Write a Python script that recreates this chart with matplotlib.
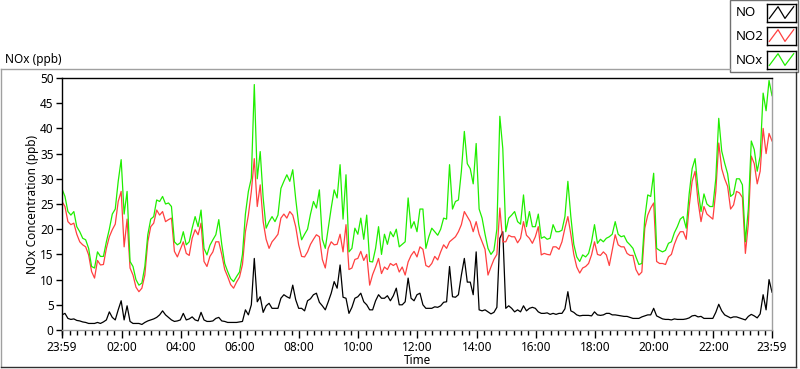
import numpy as np
import matplotlib
matplotlib.use("Agg")
import matplotlib.pyplot as plt
from matplotlib.lines import Line2D
from matplotlib.patches import Rectangle

# 6-minute samples, minute 0 = 23:59 of previous day
minutes = np.arange(0, 1441, 6)

no = [3.0, 3.3, 2.3, 2.1, 2.2, 1.9, 1.8, 1.6, 1.5, 1.3,
      1.3, 1.3, 1.5, 1.3, 1.6, 2.0, 3.6, 2.5, 2.0, 4.0,
      5.8, 2.0, 4.8, 1.7, 1.3, 1.3, 1.3, 1.1, 1.5, 1.8,
      2.0, 2.2, 2.5, 3.0, 3.8, 3.0, 2.5, 2.0, 1.7, 1.8,
      2.0,
      3.3, 2.0, 2.2, 2.6, 2.0, 1.8, 3.5, 2.0, 1.7, 1.7,
      1.8, 2.3, 2.5, 1.8, 1.7, 1.5, 1.5, 1.5, 1.5, 1.6,
      1.7, 4.0, 3.0, 5.0, 14.2, 5.6, 6.6, 3.5, 4.8, 5.3,
      4.3, 4.3, 4.3, 6.3, 7.0, 6.6, 6.3, 8.9, 6.0, 4.3,
      4.3,
      3.8, 5.8, 6.2, 7.0, 7.3, 5.5, 4.8, 4.0, 5.6,
      7.3, 9.6, 8.3, 12.9, 6.5, 6.3, 3.3, 4.5, 6.3, 6.6,
      7.3, 5.6, 5.0, 4.0, 4.0, 5.8, 7.0, 6.3, 6.3, 6.8,
      5.8, 6.8, 8.3, 5.0, 5.0, 5.6, 10.3, 6.3, 5.8, 7.0,
      7.3,
      5.0, 4.3, 4.3, 4.3, 4.6, 4.5, 4.8, 5.5, 5.6,
      12.6, 6.6, 6.5, 7.0, 10.9, 14.2, 9.5, 9.5, 7.0, 15.5,
      4.0, 3.8, 4.0, 3.6, 3.2, 3.5, 4.5, 18.2, 19.5, 4.3,
      4.8, 4.3, 3.6, 4.0, 3.6, 4.8, 3.8, 4.3, 4.5, 4.3,
      3.6, 3.3,
      3.3, 3.4, 3.1, 3.3, 3.1, 3.3, 3.3, 4.2,
      7.6, 3.8, 3.5, 3.0, 2.8, 2.9, 2.9, 2.9, 2.8, 3.6,
      3.0, 2.9, 3.0, 3.3, 3.3, 3.0, 3.0, 2.9, 2.8, 2.7,
      2.7, 2.5, 2.3, 2.3, 2.3, 2.6, 2.8, 3.0, 3.0, 4.3,
      2.8, 2.5,
      2.2, 2.1, 2.1, 2.0, 2.2, 2.1, 2.1, 2.1,
      2.2, 2.4, 2.8, 2.9, 2.6, 2.7, 2.3, 2.3, 2.3, 2.3,
      3.5, 5.1, 3.8, 3.0, 2.7, 2.4, 2.6, 2.6, 2.4, 2.2,
      2.0, 2.7, 3.1, 2.8, 2.4, 3.2, 7.0, 4.0, 10.0, 7.5]

no2 = [25.5, 24.5, 21.5, 20.9, 21.2, 19.0, 17.5, 16.9, 16.5, 14.9,
       11.6, 10.3, 13.8, 12.9, 13.0, 16.2, 18.5, 19.9, 21.0, 25.5,
       27.5, 16.5, 22.0, 12.3, 10.9, 8.5, 7.6, 8.3, 10.9, 17.5,
       20.5, 21.2, 23.8, 22.8, 23.5, 21.5, 21.9, 22.2, 15.6, 14.5,
       16.0,
       17.5, 15.2, 14.8, 18.2, 19.9, 18.9, 21.2, 13.6, 12.6, 14.6,
       15.5, 17.5, 17.5, 15.0, 12.0, 10.6, 9.0, 8.3, 9.5, 10.5,
       13.0, 19.5, 22.8, 27.5, 34.0, 24.5, 28.8, 21.5, 18.0, 16.2,
       17.5, 18.2, 19.0, 22.2, 23.0, 22.2, 23.5, 22.8, 20.5, 16.9,
       14.6,
       14.5, 15.5, 17.0, 18.0, 18.9, 18.5, 14.0, 12.3, 16.2,
       17.5, 16.9, 17.0, 19.0, 15.5, 20.9, 12.0, 12.3, 14.0, 14.2,
       15.6, 13.8, 15.0, 8.9, 11.0, 12.5, 14.2, 11.2, 12.5, 12.0,
       13.2, 12.8, 13.2, 11.5, 12.5, 10.9, 13.5, 14.8, 15.6, 14.5,
       16.5,
       16.0, 12.8, 12.5, 13.2, 14.6, 13.9, 15.5, 16.9, 16.2,
       17.5, 18.0, 18.5, 19.5, 20.9, 23.5, 22.5, 21.5, 19.5, 21.5,
       19.0, 17.5, 16.0, 10.9, 12.5, 14.0, 15.0, 24.2, 17.5, 17.5,
       18.8, 18.5, 18.5, 17.3, 18.2, 21.5, 18.8, 18.2, 17.2, 18.5,
       20.5, 14.9,
       15.2, 15.0, 14.9, 16.5, 16.5, 16.0, 17.5, 20.2,
       22.5, 19.0, 15.0, 12.5, 11.3, 12.3, 12.6, 13.2, 14.9, 17.5,
       15.0, 14.8, 15.5, 14.9, 12.8, 15.8, 18.9, 16.9, 16.5, 16.5,
       15.2, 14.8, 14.8, 12.0, 10.9, 11.5, 20.2, 22.8, 24.2, 25.2,
       13.6, 13.2,
       13.2, 13.0, 14.5, 15.0, 17.0, 18.5, 19.5, 19.5,
       18.0, 24.5, 29.5, 31.5, 25.5, 21.5, 24.5, 23.0, 22.5, 22.0,
       27.5, 37.1, 32.0, 30.0, 28.5, 24.0, 24.8, 27.5, 27.2, 26.3,
       15.2, 21.0, 34.5, 33.0, 29.0, 31.5, 40.0, 35.0, 39.0, 37.5]

nox = [28.0, 26.5, 23.5, 22.8, 23.5, 20.5, 19.5, 18.2, 17.9, 16.2,
       12.6, 12.3, 15.5, 14.6, 14.6, 17.5, 20.0, 23.0, 24.0, 29.5,
       33.8, 23.0, 27.5, 13.6, 12.6, 10.0, 8.9, 9.3, 12.6, 18.9,
       22.0, 22.5, 25.8, 25.5, 26.5, 25.0, 25.2, 24.5, 17.5, 16.9,
       17.3,
       19.5, 16.9, 17.5, 20.2, 22.5, 20.5, 23.8, 16.2, 14.9, 16.8,
       17.9, 18.9, 21.9, 17.0, 13.2, 11.6, 10.2, 9.6, 10.6, 11.5,
       15.0, 23.0, 27.5, 30.1, 48.7, 30.0, 35.4, 26.2, 20.2, 21.5,
       22.5, 21.5, 22.8, 28.1, 29.5, 30.8, 29.5, 31.8, 26.0, 21.0,
       17.9,
       19.0, 20.0, 23.0, 25.5, 24.2, 27.8, 18.0, 16.2, 20.2,
       24.2, 27.8, 26.2, 32.8, 22.0, 30.8, 15.5, 16.2, 20.2, 19.0,
       22.2, 18.0, 22.8, 13.6, 13.5, 16.2, 20.5, 15.0, 19.0, 17.0,
       19.5, 18.5, 20.0, 16.5, 17.0, 17.5, 26.2, 20.2, 21.5, 19.5,
       24.0,
       24.0, 16.2, 18.5, 20.2, 19.5, 18.8, 20.0, 22.2, 22.0,
       32.8, 24.0, 25.5, 25.8, 31.5, 39.4, 33.0, 32.0, 29.0, 37.0,
       24.0, 22.2, 19.0, 16.2, 15.0, 15.8, 20.0, 42.4, 36.0, 19.5,
       22.2, 22.8, 23.5, 21.5, 21.0, 26.8, 20.5, 23.5, 20.5, 20.5,
       23.0, 18.2,
       18.5, 18.0, 18.2, 20.9, 19.5, 19.5, 19.8, 22.5,
       29.5, 22.5, 17.0, 14.5, 13.6, 14.9, 14.5, 15.2, 17.5, 20.9,
       17.2, 18.0, 17.5, 18.2, 18.5, 19.0, 21.5, 19.0, 18.5, 18.7,
       17.5, 16.9, 16.2, 14.5, 13.0, 13.2, 22.2, 26.8, 26.5, 31.1,
       16.2, 15.8,
       15.5, 15.8, 17.2, 17.5, 19.3, 20.5, 22.0, 22.5,
       20.2, 27.0, 32.0, 34.0, 28.0, 23.5, 27.0, 25.0, 24.5, 24.5,
       30.0, 42.0, 35.5, 33.1, 31.0, 26.5, 27.0, 30.0, 30.0, 28.8,
       17.5, 24.0, 37.5, 35.8, 31.5, 34.5, 47.0, 43.5, 49.5, 46.5]

tick_min = [0, 121, 241, 361, 481, 601, 721, 841, 961, 1081, 1201, 1321, 1440]
tick_lbl = ["23:59", "02:00", "04:00", "06:00", "08:00", "10:00", "12:00",
            "14:00", "16:00", "18:00", "20:00", "22:00", "23:59"]
y_ticks = list(range(0, 51, 5))

series = [("NO", no, "#000000"), ("NO2", no2, "#ff4040"), ("NOx", nox, "#20ee00")]

W, H = 800, 369
plt.rcParams["font.family"] = ["Noto Sans", "DejaVu Sans"]
fig = plt.figure(figsize=(W / 100, H / 100), dpi=100)
fig.patch.set_facecolor("white")


def fx(px):
    return px / W


def fy(py):
    return 1 - py / H


def fline(x0, y0, x1, y1, color):
    fig.add_artist(Line2D([fx(x0), fx(x1)], [fy(y0), fy(y1)],
                          transform=fig.transFigure, color=color, lw=1.0))


# outer sunken frame
fline(1, 69, 730, 69, "#a0a0a0")
fline(1, 69, 1, 367, "#a0a0a0")
fline(1, 367, 796, 367, "#303030")
fline(796, 72, 796, 367, "#303030")

fig.text(fx(5), fy(59), "NOx (ppb)", fontsize=8.5, va="center", ha="left")

ax = fig.add_axes([fx(62), fy(330), fx(772) - fx(62), fy(78) - fy(330)])
for name, vals, col in series:
    ax.plot(minutes, vals, color=col, lw=0.9)

ax.set_xlim(0, 1440)
ax.set_ylim(0, 50)
ax.set_yticks(y_ticks)
ax.set_xticks(tick_min, tick_lbl)
ax.set_xticks(np.arange(1, 1441, 15), minor=True)
ax.tick_params(axis="y", direction="out", length=4, width=1, pad=2, labelsize=8.5)
ax.tick_params(axis="x", which="major", direction="out", length=6, width=1, pad=2,
               labelsize=8.5)
ax.tick_params(axis="x", which="minor", direction="out", length=3.5, width=1)
ax.spines["top"].set_color("black")
ax.spines["left"].set_color("black")
ax.spines["right"].set_color("#a0a0a0")
ax.spines["bottom"].set_color("#a0a0a0")
for s in ax.spines.values():
    s.set_linewidth(1.0)

fig.text(fx(33), fy(204), "NOx Concentration (ppb)", rotation=90, fontsize=8.5,
         ha="center", va="center")
fig.text(fx(417), fy(360), "Time", fontsize=8.5, ha="center", va="center")

# legend panel, top right
fig.add_artist(Rectangle((fx(730), fy(72)), fx(798) - fx(730), fy(0) - fy(72),
                         transform=fig.transFigure, facecolor="white",
                         edgecolor="#707070", lw=1.0, zorder=-1))
rows = [13, 36, 60]
for (name, vals, col), yc in zip(series, rows):
    fig.text(fx(736), fy(yc), name, fontsize=9.5, ha="left", va="center")
    sa = fig.add_axes([fx(767), fy(yc + 9), fx(796) - fx(767), fy(yc - 9) - fy(yc + 9)])
    sa.plot([0.08, 0.38, 0.62, 0.92], [0.2, 0.85, 0.2, 0.85], color=col, lw=0.9)
    sa.set_xlim(0, 1)
    sa.set_ylim(0, 1)
    sa.set_xticks([])
    sa.set_yticks([])
    for s in sa.spines.values():
        s.set_color("black")
        s.set_linewidth(1.0)

fig.savefig("out.png", dpi=100)
